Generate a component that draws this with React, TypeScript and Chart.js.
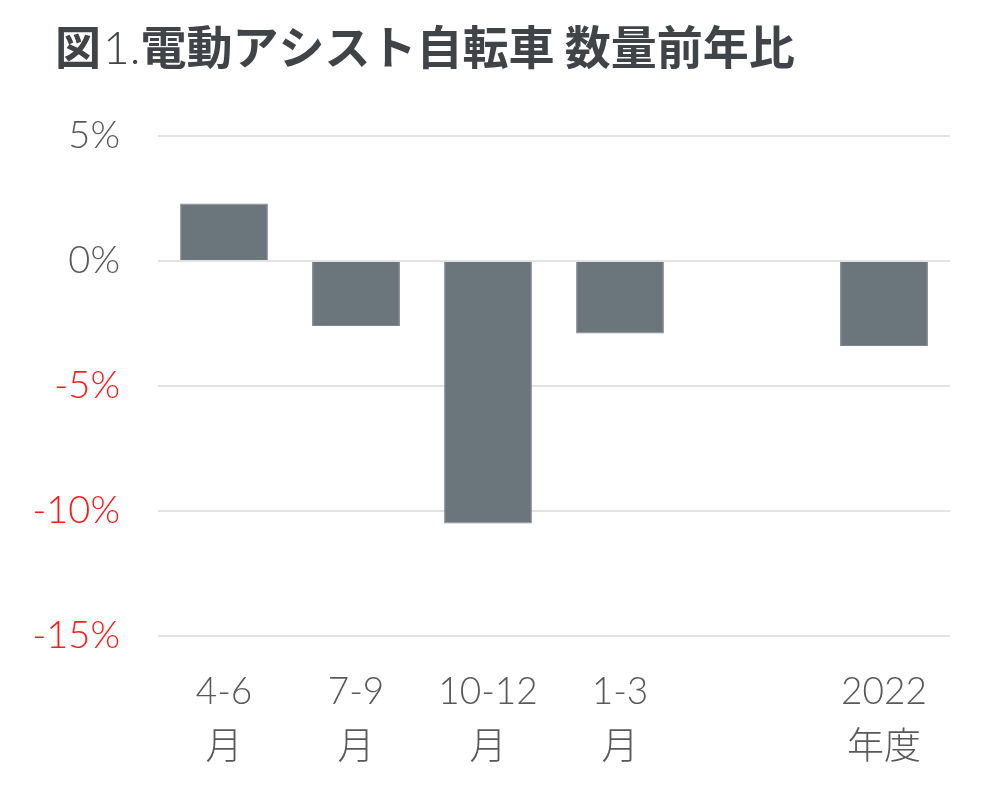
import React, { useEffect, useRef } from "react";
import { Chart, registerables } from "chart.js";

Chart.register(...registerables);

const categories: (string | string[])[] = [
  ["4-6", "月"],
  ["7-9", "月"],
  ["10-12", "月"],
  ["1-3", "月"],
  "",
  ["2022", "年度"],
];
const values: (number | null)[] = [2.3, -2.6, -10.5, -2.9, null, -3.4];
const yTicks: number[] = [5, 0, -5, -10, -15];
const titleMain = "図";
const titleNum = "1.";
const titleRest = "電動アシスト自転車 数量前年比";

const FONT = "Lato, 'Noto Sans CJK JP', sans-serif";

const titlePlugin = {
  id: "customTitle",
  afterDraw(chart: any) {
    const ctx = chart.ctx;
    ctx.save();
    ctx.fillStyle = "#404448";
    ctx.textBaseline = "middle";
    ctx.textAlign = "left";
    let x = 55;
    const y = 47;
    ctx.font = "bold 46px 'Noto Sans CJK JP', sans-serif";
    ctx.fillText(titleMain, x, y);
    x += ctx.measureText(titleMain).width + 2;
    ctx.font = "300 46px Lato, sans-serif";
    ctx.fillText(titleNum, x, y + 2);
    x += ctx.measureText(titleNum).width;
    ctx.font = "bold 46px 'Noto Sans CJK JP', sans-serif";
    ctx.fillText(titleRest, x, y);
    ctx.restore();
  },
};

export default function App() {
  const ref = useRef<HTMLCanvasElement | null>(null);
  useEffect(() => {
    if (!ref.current) return;
    const chart = new Chart(ref.current, {
      type: "bar",
      data: {
        labels: categories,
        datasets: [
          {
            data: values,
            backgroundColor: "#6b757c",
            borderColor: "#7d868c",
            borderWidth: 1,
            categoryPercentage: 1,
            barPercentage: 0.665,
          },
        ],
      },
      plugins: [titlePlugin],
      options: {
        animation: false,
        responsive: false,
        maintainAspectRatio: false,
        devicePixelRatio: 1,
        layout: { padding: { left: 0, right: 50, top: 136, bottom: 0 } },
        plugins: {
          legend: { display: false },
          tooltip: { enabled: false },
          title: { display: false },
        },
        scales: {
          x: {
            grid: { display: false, drawTicks: false },
            border: { display: false },
            ticks: {
              color: "#595959",
              padding: 28,
              maxRotation: 0,
              autoSkip: false,
              font: { family: FONT, size: 37, weight: "300", lineHeight: 1.5 },
            },
            afterFit: (s: any) => {
              s.height = 169;
            },
          },
          y: {
            min: -15,
            max: 5,
            afterBuildTicks: (s: any) => {
              s.ticks = yTicks.map((v) => ({ value: v }));
            },
            grid: { color: "#e3e3e3", lineWidth: 2, drawTicks: false },
            border: { display: false },
            ticks: {
              padding: 38,
              font: { family: FONT, size: 38, weight: "300" },
              color: (ctx: any) => (ctx.tick && ctx.tick.value < 0 ? "#ff1a1a" : "#595959"),
              callback: (v: any) => `${v}%`,
            },
            afterFit: (s: any) => {
              s.width = 158;
            },
          },
        },
      },
    });
    return () => chart.destroy();
  }, []);
  return (
    <div style={{ position: "fixed", left: 0, top: 0, width: 1000, height: 805, background: "#fff" }}>
      <canvas ref={ref} width={1000} height={805} style={{ width: 1000, height: 805 }} />
    </div>
  );
}
